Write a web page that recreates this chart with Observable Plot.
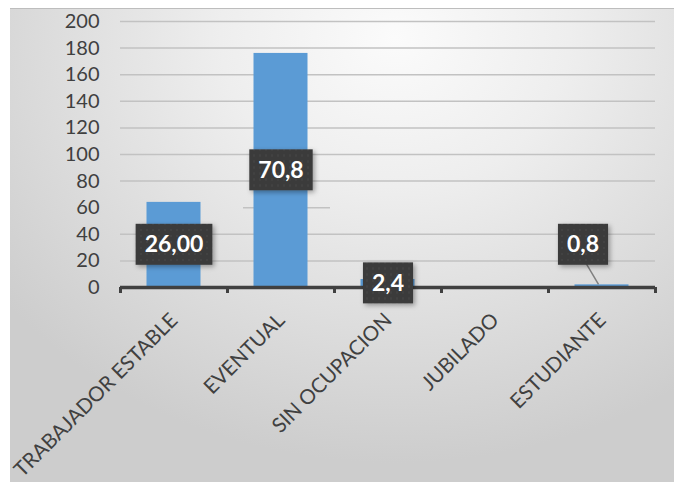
<!DOCTYPE html>
<html>
<head>
<meta charset="utf-8">
<script src="https://cdn.jsdelivr.net/npm/d3@7"></script>
<script src="https://cdn.jsdelivr.net/npm/@observablehq/plot@0.6"></script>
<style>
  html, body { margin: 0; padding: 0; background: #ffffff; }
  #wrap { position: relative; width: 674px; height: 482px; overflow: hidden; background: #fff; }
  #card {
    position: absolute; left: 10px; top: 8px; right: 0; bottom: 0;
    border-top: 1px solid #bdbdbd;
    background: radial-gradient(ellipse 75% 90% at 58% 6%, #fbfbfb 0%, #eeeeee 35%, #dcdcdc 70%, #cdcdcd 100%);
  }
  #chart { position: absolute; left: 0; top: 0; }
</style>
</head>
<body>
<div id="wrap"><div id="card"></div><div id="chart"></div></div>
<script>
// ---- data ----
const categories = ["TRABAJADOR ESTABLE", "EVENTUAL", "SIN OCUPACION", "JUBILADO", "ESTUDIANTE"];
const counts = [64, 176, 6, 0, 2];
const pctLabels = ["26,00", "70,8", "2,4", "", "0,8"];
const yTicks = [0, 20, 40, 60, 80, 100, 120, 140, 160, 180, 200];

const data = categories.map((c, i) => ({cat: c, count: counts[i], label: pctLabels[i]}));
const inBar = data.filter(d => d.label !== "" && d.cat !== "ESTUDIANTE");
const moved = data.filter(d => d.cat === "ESTUDIANTE");
const gridTicks = yTicks.filter(t => t !== 0 && t !== 60);
const FONT = "Lato, 'Open Sans', sans-serif";

const plot = Plot.plot({
  width: 674,
  height: 482,
  marginLeft: 120,
  marginRight: 19,
  marginTop: 21,
  marginBottom: 195,
  style: {background: "transparent", fontFamily: FONT, overflow: "visible"},
  x: {domain: categories, padding: 0, axis: null},
  y: {domain: [0, 200], axis: null},
  marks: [
    Plot.ruleY(gridTicks, {stroke: "#c2c2c2", strokeWidth: 1.5}),
    Plot.ruleY([60], {stroke: "#c2c2c2", strokeWidth: 1.5, insetLeft: 123, insetRight: 325}),
    Plot.barY(data, {x: "cat", y: "count", fill: "#5b9bd5", insetLeft: 26.5, insetRight: 26.5}),
    Plot.ruleY([0], {stroke: "#404040", strokeWidth: 3.5}),
    Plot.ruleX(categories, {x: d => d, dx: -53.5, y1: 0, y2: -4.5, stroke: "#404040", strokeWidth: 3}),
    Plot.ruleX([categories[categories.length - 1]], {x: d => d, dx: 53.5, y1: 0, y2: -4.5, stroke: "#404040", strokeWidth: 3}),
    Plot.axisY({ticks: yTicks, tickSize: 0, tickPadding: 21, fontSize: 20, fill: "#404040", fontFamily: FONT, label: null}),
    Plot.text(categories, {x: d => d, y: 0, text: d => d, rotate: -45, textAnchor: "end", lineAnchor: "bottom",
      dx: 5, dy: 34, fontSize: 20.5, fill: "#404040", fontFamily: FONT}),
    Plot.text(inBar, {x: "cat", y: d => d.count / 2, text: "label", fill: "white", fontWeight: "bold",
      fontSize: 23, fontFamily: FONT, className: "dlabel"}),
    Plot.text(moved, {x: "cat", y: 32, text: "label", dx: -19, fill: "white", fontWeight: "bold",
      fontSize: 23, fontFamily: FONT, className: "dlabel"})
  ]
});

document.getElementById("chart").appendChild(plot);

// ---- label boxes (sized from rendered text) and leader line ----
const svg = d3.select(plot);
const defs = svg.insert("defs", ":first-child");
const pat = defs.append("pattern").attr("id", "dots").attr("patternUnits", "userSpaceOnUse")
  .attr("width", 6).attr("height", 6);
pat.append("rect").attr("width", 6).attr("height", 6).attr("fill", "#3b3b3b");
pat.append("circle").attr("cx", 3).attr("cy", 3).attr("r", 0.8).attr("fill", "#4d4d4d");
const f = defs.append("filter").attr("id", "shadow").attr("x", "-30%").attr("y", "-30%").attr("width", "160%").attr("height", "160%");
f.append("feDropShadow").attr("dx", 2).attr("dy", 2).attr("stdDeviation", 2.5).attr("flood-color", "#000").attr("flood-opacity", 0.35);

const xs = plot.scale("x"), ys = plot.scale("y");
// leader line for the moved label (placed before the label groups)
const xE = xs.apply("ESTUDIANTE") + xs.bandwidth / 2;
const firstLabelG = plot.querySelector("g.dlabel");
svg.insert("line", () => firstLabelG)
  .attr("x1", xE - 16).attr("y1", ys.apply(32) + 18)
  .attr("x2", xE - 3).attr("y2", ys.apply(moved[0].count))
  .attr("stroke", "#808080").attr("stroke-width", 1.5);

svg.selectAll("g.dlabel text").each(function() {
  const bb = this.getBBox();
  const cx = bb.x + bb.width / 2, cy = bb.y + bb.height / 2;
  const w = bb.width + 18, h = 41;
  const g = this.parentNode;
  d3.select(g).insert("rect", () => this)
    .attr("transform", this.getAttribute("transform"))
    .attr("x", cx - w / 2).attr("y", cy - h / 2 + 1)
    .attr("width", w).attr("height", h)
    .attr("fill", "url(#dots)").attr("filter", "url(#shadow)");
});
</script>
</body>
</html>
